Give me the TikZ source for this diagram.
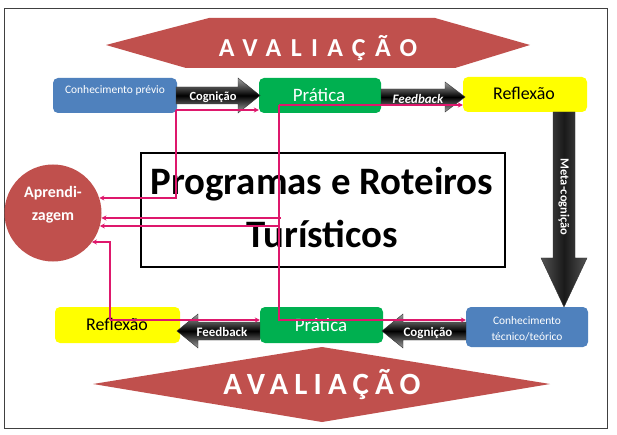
\documentclass[tikz,border=0pt]{standalone}
\usepackage{fontspec}
\setmainfont{Carlito}
\newfontfamily\avalA[LetterSpace=36]{Carlito}
\newfontfamily\avalB[LetterSpace=20]{Carlito}
\usetikzlibrary{arrows.meta,shapes.geometric}
\definecolor{pk}{RGB}{222,24,108}
\definecolor{boxblue}{RGB}{79,129,189}
\definecolor{boxgreen}{RGB}{0,176,80}
\definecolor{boxyellow}{RGB}{255,255,0}
\definecolor{avred}{RGB}{192,80,77}
\begin{document}
\begin{tikzpicture}[x=1bp,y=-1bp,
  box/.style={rounded corners=5bp, inner sep=0pt},
  txt/.style={inner sep=0pt, anchor=base},
  fs/.style={font=\fontsize{#1}{#1}\selectfont},
  fsb/.style={font=\bfseries\fontsize{#1}{#1}\selectfont},
  harrow/.style={top color=gray!75, bottom color=gray!75, middle color=black, draw=black!80, line width=0.4bp},
  varrow/.style={left color=gray!65!black, right color=gray!65!black, middle color=black!90, draw=black!80, line width=0.4bp},
  pkl/.style={draw=pk, line width=2bp, -{Stealth[length=5bp,width=5bp]}}]
\useasboundingbox (0,0) rectangle (617,435);
\fill[white] (0,0) rectangle (617,435);
\draw[black!75, line width=1.2bp] (4.5,8.5) rectangle (607.5,428.5);

% AVALIACAO shapes
\fill[avred] (106,45) -- (209,18) -- (435,18) -- (530,45) -- (455,68) -- (186,68) -- cycle;
\fill[avred] (93,384) -- (322,347) -- (550,384) -- (322,422) -- cycle;
\node[txt, text=white, font=\avalA\bfseries\fontsize{26}{26}\selectfont] (av1) at (318,57) {AVALIAÇÃO\hspace{-0.36em}};
\node[txt, text=white, font=\avalB\bfseries\fontsize{31}{31}\selectfont] (av2) at (322,394) {AVALIAÇÃO\hspace{-0.2em}};

% central box
\node[draw=black, line width=1.2bp, minimum width=364bp, minimum height=114bp, inner sep=0pt] (prog) at (323,210) {};
\node[txt, fsb=39] (prog1) at (322,195) {Programas e Roteiros};
\node[txt, fsb=39] (prog2) at (322,248) {Turísticos};

% top row boxes
\node[box, fill=boxblue, minimum width=124bp, minimum height=35bp] (cp) at (115,95.5) {};
\node[txt, fs=11.5, text=white] (cpt) at (115,94) {Conhecimento prévio};
\node[box, fill=boxgreen, minimum width=122bp, minimum height=35bp] (prat1) at (320,95.5) {};
\node[txt, fs=19, text=white] (prat1t) at (319,102) {Prática};
\node[box, fill=boxyellow, minimum width=124bp, minimum height=35bp] (ref1) at (525,94.5) {};
\node[txt, fs=18] (ref1t) at (524,100) {Reflexão};

% top arrows
\shade[harrow] (176,87) -- (238,87) -- (238,78) -- (260,95.5) -- (238,113) -- (238,104) -- (176,104) -- cycle;
\node[txt, fsb=12.5, text=white] (cog1) at (213,101) {Cognição};
\shade[harrow] (381,89) -- (445,89) -- (445,82) -- (465,97) -- (445,112) -- (445,105) -- (381,105) -- cycle;
\node[txt, text=white, font=\bfseries\itshape\fontsize{13}{13}\selectfont] (fb1) at (418,104) {Feedback};

% meta-cognicao arrow
\shade[varrow] (553,112) -- (575,112) -- (575,258) -- (587,258) -- (564,307) -- (541,258) -- (553,258) -- cycle;
\node[fsb=12.5, text=white, rotate=-90, inner sep=0pt] (mc) at (564,197) {Meta-cognição};

% bottom row boxes
\node[box, fill=boxyellow, minimum width=125bp, minimum height=36bp] (ref2) at (117.5,325) {};
\node[txt, fs=18] (ref2t) at (117,330) {Reflexão};
\node[box, fill=boxgreen, minimum width=123bp, minimum height=36bp] (prat2) at (321.5,325) {};
\node[txt, fs=19, text=white] (prat2t) at (321,331) {Prática};
\node[box, fill=boxblue, minimum width=122bp, minimum height=40bp] (ct) at (527,327) {};
\node[txt, fs=11.5, text=white] (ct1) at (527,324) {Conhecimento};
\node[txt, fs=11.5, text=white] (ct2) at (527,340) {técnico/teórico};

% bottom arrows
\shade[harrow] (260,322) -- (198,322) -- (198,314) -- (177,331) -- (198,348) -- (198,340) -- (260,340) -- cycle;
\node[txt, fsb=13, text=white] (fb2) at (222,336) {Feedback};
\shade[harrow] (466,322) -- (403,322) -- (403,314) -- (382,331) -- (403,348) -- (403,340) -- (466,340) -- cycle;
\node[txt, fsb=13, text=white] (cog2) at (428,336) {Cognição};

% Aprendizagem
\node[circle, fill=avred, minimum size=97bp, inner sep=0pt] (apr) at (53,213) {};
\node[txt, fsb=16, text=white] (apr1) at (53,198) {Aprendi-};
\node[txt, fsb=16, text=white] (apr2) at (53,221) {zagem};

% pink connectors
\coordinate (k1) at (176,110);
\coordinate (k2) at (279,105);
\coordinate (k3) at (279,320);
\coordinate (k4) at (110,320);
\coordinate (s0) at (176,198);
\coordinate (s1) at (281,218);
\coordinate (s2) at (279,226);
\coordinate (s3) at (110,242);
\draw[pkl] (k1) -- (prat1.west |- k1);
\draw[pkl] (k1) -- (s0) -- (apr.18 |- s0);
\draw[pkl] (k2) -- (ref1.west |- k2);
\draw[pkl] (k2) -- (k3) -- (ct.west |- k3);
\draw[pkl] (s1) -- (apr.-6 |- s1);
\draw[pkl] (s2) -- (apr.-16 |- s2);
\draw[pkl] (k4) -- (prat2.west |- k4);
\draw[pkl] (k4) -- (s3) -- (apr.-37 |- s3);
\end{tikzpicture}
\end{document}
